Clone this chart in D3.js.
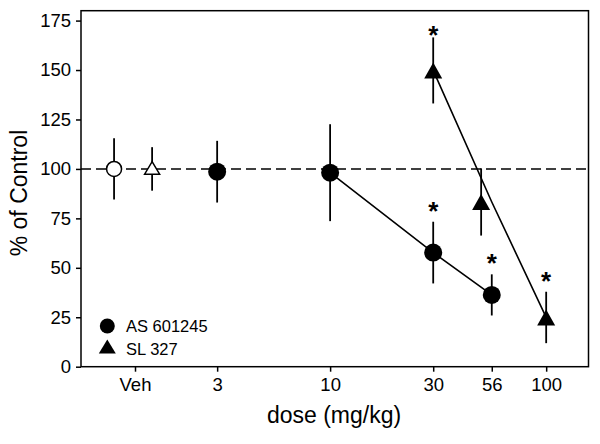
<!DOCTYPE html>
<html><head><meta charset="utf-8">
<script src="https://cdn.jsdelivr.net/npm/d3@7"></script>
<style>
body{margin:0;background:#fff}
text{font-family:"Liberation Sans",Arial,Helvetica,sans-serif}
</style>
</head><body><svg id="c" width="600" height="444"></svg>
<script>
// ---- data ----
const xTickValues = [1.25, 3, 10, 30, 56, 100];
const xTickLabels = ["Veh", "3", "10", "30", "56", "100"];
const yTickValues = [0, 25, 50, 75, 100, 125, 150, 175];
const controlLevel = 100;

// AS 601245 (circles)
const asVehDose = 1, asVehMean = 100, asVehSem = 15.5;
const asDoses = [3, 10, 30, 56];
const asMeans = [98.6, 98.1, 57.7, 36.3];
const asSem = [15.6, 24.5, 15.6, 10.4];
const asSig = [false, false, true, true];
const asLineDoses = [10, 30, 56];

// SL 327 (triangles)
const slVehDose = 1.5, slVehMean = 100, slVehSem = 11;
const slDoses = [30, 56, 100];
const slSymbolDoses = [30, 50, 100]; // symbol drawn slightly left at 56 to avoid overlap
const slMeans = [149.8, 83.3, 24.9];
const slSem = [16.7, 17, 13];
const slSig = [true, false, true];

const legendLabels = ["AS 601245", "SL 327"];

// ---- layout ----
const L = 81, R = 588.5, T = 10.7, B = 366.7;
const svg = d3.select("#c");
const x = d3.scaleLog().domain([0.703, 157]).range([L, R]);
const y = d3.scaleLinear().domain([0, 180]).range([B, T]);

// axes
const yAxis = d3.axisLeft(y).tickValues(yTickValues).tickSize(5).tickPadding(5);
const gy = svg.append("g").attr("transform", `translate(${L},0)`).call(yAxis);
gy.select(".domain").remove();
gy.selectAll("line").attr("stroke", "#000").attr("stroke-width", 1.5);
gy.selectAll("text").attr("font-size", 18.5).attr("fill", "#000");

const xAxis = d3.axisBottom(x).tickValues(xTickValues)
  .tickFormat((d, i) => xTickLabels[i]).tickSize(5).tickPadding(6);
const gx = svg.append("g").attr("transform", `translate(0,${B})`).call(xAxis);
gx.select(".domain").remove();
gx.selectAll("line").attr("stroke", "#000").attr("stroke-width", 1.5);
gx.selectAll("text").attr("font-size", 18.5).attr("fill", "#000");

// frame
svg.append("rect").attr("x", L).attr("y", T).attr("width", R - L).attr("height", B - T)
  .attr("fill", "none").attr("stroke", "#000").attr("stroke-width", 1.5);

// titles
svg.append("text").attr("x", 334).attr("y", 423).attr("text-anchor", "middle")
  .attr("font-size", 23).text("dose (mg/kg)");
svg.append("text").attr("transform", `translate(27,${193}) rotate(-90)`)
  .attr("text-anchor", "middle").attr("font-size", 23).text("% of Control");

// control dashed line
svg.append("line").attr("x1", L).attr("x2", R).attr("y1", y(controlLevel)).attr("y2", y(controlLevel))
  .attr("stroke", "#000").attr("stroke-width", 1.5).attr("stroke-dasharray", "10,5");

// connecting lines
const line = d3.line().x(d => x(d[0])).y(d => y(d[1]));
const asLinePts = asLineDoses.map(d => [d, asMeans[asDoses.indexOf(d)]]);
svg.append("path").attr("d", line(asLinePts)).attr("fill", "none").attr("stroke", "#000").attr("stroke-width", 1.6);
const slLinePts = slDoses.map((d, i) => [d, slMeans[i]]);
svg.append("path").attr("d", line(slLinePts)).attr("fill", "none").attr("stroke", "#000").attr("stroke-width", 1.6);

// error bars
function ebar(dx, m, s) {
  svg.append("line").attr("x1", x(dx)).attr("x2", x(dx)).attr("y1", y(m - s)).attr("y2", y(m + s))
    .attr("stroke", "#000").attr("stroke-width", 1.8);
}
ebar(asVehDose, asVehMean, asVehSem);
ebar(slVehDose, slVehMean, slVehSem);
asDoses.forEach((d, i) => ebar(d, asMeans[i], asSem[i]));
slSymbolDoses.forEach((d, i) => ebar(d, slMeans[i], slSem[i]));

// symbols
function tri(cx, cy, w, h) {
  return `M${cx},${cy - h / 2}L${cx + w / 2},${cy + h / 2}L${cx - w / 2},${cy + h / 2}Z`;
}
svg.append("circle").attr("cx", x(asVehDose)).attr("cy", y(asVehMean)).attr("r", 7.5)
  .attr("fill", "#fff").attr("stroke", "#000").attr("stroke-width", 1.5);
svg.append("path").attr("d", tri(x(slVehDose), y(slVehMean) - 1, 15, 12.5))
  .attr("fill", "#fff").attr("stroke", "#000").attr("stroke-width", 1.5);
asDoses.forEach((d, i) => {
  svg.append("circle").attr("cx", x(d)).attr("cy", y(asMeans[i])).attr("r", 9).attr("fill", "#000");
});
slSymbolDoses.forEach((d, i) => {
  svg.append("path").attr("d", tri(x(d), y(slMeans[i]), 18, 16)).attr("fill", "#000");
});

// significance asterisks (kept inside the frame)
function star(dx, m, s) {
  const base = Math.max(y(m + s) - 2, T + 33);
  svg.append("text").attr("x", x(dx)).attr("y", base).attr("text-anchor", "middle")
    .attr("font-size", 26).attr("font-weight", "bold").text("*");
}
asDoses.forEach((d, i) => { if (asSig[i]) star(d, asMeans[i], asSem[i]); });
slSymbolDoses.forEach((d, i) => { if (slSig[i]) star(d, slMeans[i], slSem[i]); });

// legend
svg.append("circle").attr("cx", 107.3).attr("cy", 326).attr("r", 7.5).attr("fill", "#000");
svg.append("path").attr("d", tri(107.3, 346.5, 17, 14)).attr("fill", "#000");
svg.append("text").attr("x", 126).attr("y", 332).attr("font-size", 16.5).text(legendLabels[0]);
svg.append("text").attr("x", 126).attr("y", 354.5).attr("font-size", 16.5).text(legendLabels[1]);
</script>
</body></html>
